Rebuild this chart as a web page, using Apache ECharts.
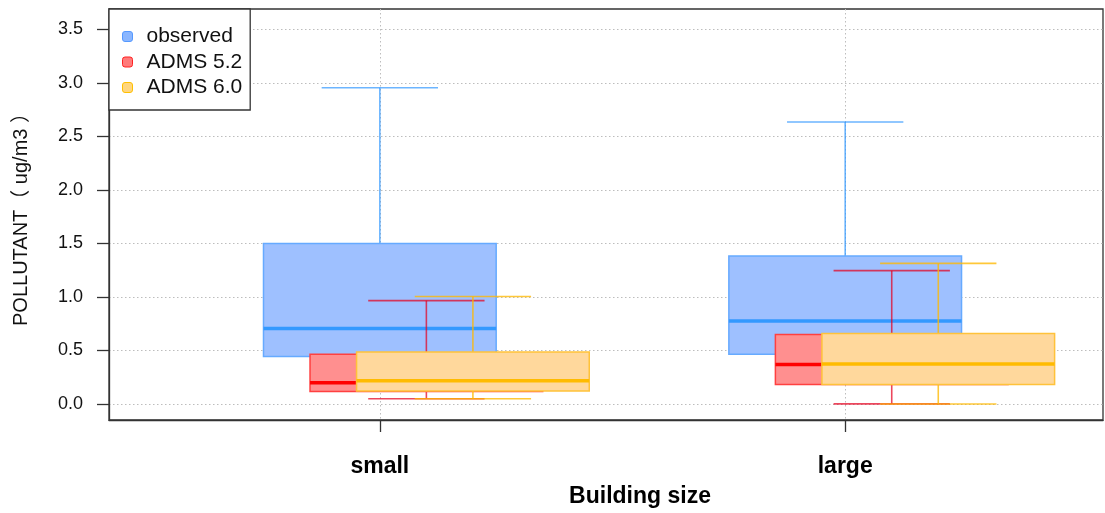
<!DOCTYPE html>
<html>
<head>
<meta charset="utf-8">
<script src="https://cdn.jsdelivr.net/npm/echarts@6/dist/echarts.min.js"></script>
<style>
  html, body { margin: 0; padding: 0; background: #fff; }
  #chart { width: 1105px; height: 513px; }
</style>
</head>
<body>
<div id="chart"></div>
<script>
// Building-size groups on the x axis
const categories = ['small', 'large'];
const seriesNames = ['observed', 'ADMS 5.2', 'ADMS 6.0'];

// Five-number summaries per group: [min, Q1, median, Q3, max]  (ug/m3)
const observed = [
  [0.18, 0.444, 0.705, 1.500, 2.955],
  [0.24, 0.466, 0.776, 1.382, 2.635]
];
const adms52 = [
  [0.050, 0.118, 0.199, 0.466, 0.966],
  [0.002, 0.183, 0.370, 0.649, 1.246]
];
const adms60 = [
  [0.050, 0.121, 0.217, 0.485, 1.004],
  [0.000, 0.183, 0.373, 0.659, 1.314]
];

// Tick labels
const yTicks = [0, 0.5, 1.0, 1.5, 2.0, 2.5, 3.0, 3.5];
const xTicks = [1, 2];

// Drawing styles
const FONT = 'Liberation Sans, Arial, Noto Sans CJK SC, sans-serif';
const styles = [
  { fill: '#9ec0ff', edge: '#66aaff', median: '#3399ff', whisker: 'rgba(51,153,255,0.72)',
    legendFill: '#8ab6ff', legendEdge: '#5599ff' },
  { fill: '#ff8f8f', edge: '#ff4040', median: '#ff0000', whisker: 'rgba(228,0,30,0.72)',
    legendFill: '#ff7a7a', legendEdge: '#ff2222' },
  { fill: '#ffd89c', edge: '#ffc23a', median: '#ffbb00', whisker: 'rgba(255,184,0,0.78)',
    legendFill: '#ffd680', legendEdge: '#ffc000' }
];
const BOX_WIDTH = 0.5;     // in x-axis units
const CAP_WIDTH = 0.25;
const DODGE = 0.1;         // shift between neighbouring series in a group

function boxRenderer(st) {
  return function (params, api) {
    const x = api.value(0);
    const lo = api.value(1), q1 = api.value(2), med = api.value(3), q3 = api.value(4), hi = api.value(5);
    const p = (dx, v) => api.coord([x + dx, v]);
    const hb = BOX_WIDTH / 2, hc = CAP_WIDTH / 2;
    const tl = p(-hb, q3), br = p(hb, q1);
    const whiskerStyle = { stroke: st.whisker, lineWidth: 1.6 };
    const line = (a, b, style) => ({
      type: 'line',
      shape: { x1: a[0], y1: a[1], x2: b[0], y2: b[1] },
      style: style
    });
    return {
      type: 'group',
      children: [
        line(p(0, q3), p(0, hi), whiskerStyle),
        line(p(0, q1), p(0, lo), whiskerStyle),
        line(p(-hc, hi), p(hc, hi), whiskerStyle),
        line(p(-hc, lo), p(hc, lo), whiskerStyle),
        {
          type: 'rect',
          shape: { x: tl[0], y: tl[1], width: br[0] - tl[0], height: br[1] - tl[1] },
          style: { fill: st.fill, stroke: st.edge, lineWidth: 1.5 }
        },
        line(p(-hb, med), p(hb, med), { stroke: st.median, lineWidth: 3.5 })
      ]
    };
  };
}

function makeSeries(name, summaries, idx) {
  return {
    name: name,
    type: 'custom',
    itemStyle: { color: styles[idx].legendFill },
    renderItem: boxRenderer(styles[idx]),
    encode: { x: 0, y: [1, 2, 3, 4, 5] },
    data: summaries.map((s, i) => [i + 1 + idx * DODGE].concat(s)),
    z: 2 + idx
  };
}

const dotted = { type: [1.5, 2.5], color: '#bdbdbd', width: 1 };

const chart = echarts.init(document.getElementById('chart'), null, { renderer: 'canvas' });
chart.setOption({
  animation: false,
  backgroundColor: '#fff',
  grid: {
    left: 109, right: 2, top: 9, bottom: 92,
    show: true, borderColor: '#333', borderWidth: 1.3, backgroundColor: 'transparent'
  },
  legend: {
    orient: 'vertical',
    left: 109, top: 9,
    padding: [17, 8, 12, 13],
    itemGap: 4.5,
    itemWidth: 10, itemHeight: 10,
    icon: 'roundRect',
    backgroundColor: '#fff',
    borderColor: '#333', borderWidth: 1.3,
    textStyle: { fontSize: 21, fontFamily: FONT, color: '#111', lineHeight: 21, padding: [0, 0, 0, 9] },
    data: seriesNames.map((n, i) => ({
      name: n,
      itemStyle: { color: styles[i].legendFill, borderColor: styles[i].legendEdge, borderWidth: 1 }
    }))
  },
  xAxis: {
    type: 'value',
    min: 0.418, max: 2.554,
    axisLine: { show: true, onZero: false, lineStyle: { color: '#333', width: 1.3 } },
    axisTick: { show: true, customValues: xTicks, length: 12, lineStyle: { color: '#333', width: 1.3 } },
    axisLabel: {
      customValues: xTicks,
      formatter: v => categories[Math.round(v) - 1],
      fontSize: 23, fontWeight: 'bold', fontFamily: FONT, color: '#000', margin: 35
    },
    splitLine: { show: true, lineStyle: dotted },
    name: 'Building size',
    nameLocation: 'middle',
    nameGap: 65,
    nameTextStyle: { fontSize: 23, fontWeight: 'bold', fontFamily: FONT, color: '#000', padding: [0, 0, 0, 68] }
  },
  yAxis: {
    type: 'value',
    min: -0.149, max: 3.69,
    axisLine: { show: true, onZero: false, lineStyle: { color: '#333', width: 1.3 } },
    axisTick: { show: true, customValues: yTicks, length: 12, lineStyle: { color: '#333', width: 1.3 } },
    axisLabel: {
      customValues: yTicks,
      formatter: v => v.toFixed(1),
      fontSize: 18, fontFamily: FONT, color: '#111', margin: 26
    },
    splitLine: { show: true, lineStyle: dotted },
    name: 'POLLUTANT（ ug/m3 ）',
    nameLocation: 'middle',
    nameRotate: 90,
    nameGap: 78,
    nameTextStyle: { fontSize: 20, fontFamily: FONT, color: '#111' }
  },
  series: [
    makeSeries(seriesNames[0], observed, 0),
    makeSeries(seriesNames[1], adms52, 1),
    makeSeries(seriesNames[2], adms60, 2)
  ]
});
</script>
</body>
</html>
